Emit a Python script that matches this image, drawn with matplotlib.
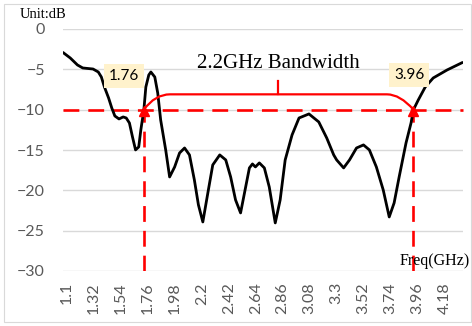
import matplotlib
matplotlib.use("Agg")
import matplotlib.pyplot as plt
import matplotlib.transforms as mtransforms
from matplotlib.path import Path
from matplotlib.patches import PathPatch, Rectangle
import numpy as np

# S11 response, frequency in GHz and return loss in dB
freq = [1.100, 1.159, 1.218, 1.261, 1.345, 1.388, 1.413, 1.438, 1.472, 1.498,
        1.523, 1.557, 1.591, 1.616, 1.642, 1.667, 1.692, 1.718, 1.735, 1.760,
        1.776, 1.800, 1.817, 1.849, 1.873, 1.897, 1.938, 1.970, 2.011, 2.051,
        2.092, 2.132, 2.172, 2.205, 2.241, 2.282, 2.322, 2.379, 2.428, 2.468,
        2.508, 2.549, 2.581, 2.621, 2.646, 2.670, 2.702, 2.743, 2.783, 2.832,
        2.872, 2.913, 2.969, 3.026, 3.107, 3.187, 3.252, 3.309, 3.333, 3.390,
        3.438, 3.495, 3.552, 3.600, 3.657, 3.713, 3.762, 3.802, 3.843, 3.899,
        3.940, 3.960, 3.999, 4.056, 4.121, 4.234, 4.360]
s11 = [-2.91, -3.59, -4.46, -4.83, -4.96, -5.33, -5.95, -7.19, -8.55, -9.79,
       -10.78, -11.15, -10.90, -11.03, -11.65, -13.38, -14.99, -14.62, -12.52, -10.00,
       -7.19, -5.70, -5.33, -5.95, -7.93, -11.28, -14.99, -18.34, -17.10, -15.37,
       -14.75, -15.61, -18.71, -21.80, -23.92, -20.32, -16.85, -15.61, -16.23, -18.34,
       -21.19, -22.80, -20.32, -17.22, -16.73, -17.10, -16.60, -17.22, -19.58, -24.04,
       -21.19, -16.23, -13.14, -11.03, -10.53, -11.52, -13.51, -15.61, -16.23, -17.22,
       -16.23, -14.75, -14.37, -14.99, -17.10, -19.95, -23.30, -21.56, -18.34, -14.13,
       -11.65, -10.00, -8.80, -7.19, -6.07, -5.08, -4.15]

f_low, f_high = 1.76, 3.96
threshold = -10
bw_label = "2.2GHz Bandwidth"
xticks = [1.1, 1.32, 1.54, 1.76, 1.98, 2.2, 2.42, 2.64, 2.86, 3.08, 3.3, 3.52, 3.74, 3.96, 4.18]
xtick_labels = ["1.1", "1.32", "1.54", "1.76", "1.98", "2.2", "2.42", "2.64", "2.86",
                "3.08", "3.3", "3.52", "3.74", "3.96", "4.18"]
yticks = [0, -5, -10, -15, -20, -25, -30]

red = "#ff0000"
grey = "#595959"
grid = "#d9d9d9"
sans = ["Lato", "DejaVu Sans"]
serif = ["Liberation Serif", "DejaVu Serif"]

fig = plt.figure(figsize=(4.72, 3.26), dpi=100)
ax = fig.add_axes([63 / 472, 55 / 326, 400 / 472, 242 / 326])

# chart border
fig.patches.append(Rectangle((3.5 / 472, 4 / 326), 467 / 472, 318 / 326,
                             transform=fig.transFigure, fill=False,
                             edgecolor=grid, linewidth=0.8))

ax.set_xlim(1.1, 4.364)
ax.set_ylim(-30, 0)
for s in ax.spines.values():
    s.set_visible(False)
ax.set_yticks(yticks)
ax.yaxis.grid(True, color=grid, linewidth=1.0)
ax.set_axisbelow(True)
ax.tick_params(axis="y", length=0, pad=13, labelsize=11.5, labelcolor=grey)
ax.set_xticks(xticks)
ax.set_xticklabels(xtick_labels, rotation=90)
ax.tick_params(axis="x", length=0, pad=8, labelsize=11.5, labelcolor=grey)
for lab in ax.get_yticklabels() + ax.get_xticklabels():
    lab.set_family(sans)
shift = mtransforms.ScaledTranslation(0.04, 0, fig.dpi_scale_trans)
for lab in ax.get_xticklabels():
    lab.set_transform(lab.get_transform() + shift)

# -10 dB reference and band edges
dash = (0, (6.0, 3.4))
ax.plot([1.1, 4.364], [threshold, threshold], color=red, lw=1.9, ls=dash, clip_on=False, zorder=3)
for f in (f_low, f_high):
    ax.plot([f, f], [-30, threshold], color=red, lw=1.9, ls=dash, zorder=3)

ax.plot(freq, s11, color="black", lw=2.0, solid_joinstyle="round", solid_capstyle="round", zorder=4)

for f in (f_low, f_high):
    ax.plot([f], [threshold - 0.15], marker="^", ms=7.5, color=red, mec=red, zorder=5)

# bandwidth bracket
verts = [(f_low, threshold), (1.851, -8.1), (1.973, -8.1),
         (3.744, -8.1), (3.850, -8.1), (f_high, threshold)]
codes = [Path.MOVETO, Path.CURVE3, Path.CURVE3,
         Path.LINETO, Path.CURVE3, Path.CURVE3]
ax.add_patch(PathPatch(Path(verts, codes), fill=False, edgecolor=red, lw=1.6, zorder=5))
ax.plot([2.854, 2.854], [-8.1, -6.5], color=red, lw=1.6, zorder=5)

ax.text(2.858, -4.85, bw_label, ha="center", va="baseline", fontsize=15, family=serif)

box = dict(boxstyle="square,pad=0.32", facecolor="#fff2cc", edgecolor="none")
ax.text(1.598, -5.8, "1.76", ha="center", va="center", fontsize=11, family=sans, bbox=box, zorder=6)
ax.text(3.927, -5.7, "3.96", ha="center", va="center", fontsize=11, family=sans, bbox=box, zorder=6)

fig.text(20 / 472, 1 - 18 / 326, "Unit:dB", fontsize=10.5, family=serif, va="baseline")
fig.text(400 / 472, 1 - 265 / 326, "Freq(GHz)", fontsize=11.5, family=serif, va="baseline")

fig.savefig("out.png", dpi=100)
